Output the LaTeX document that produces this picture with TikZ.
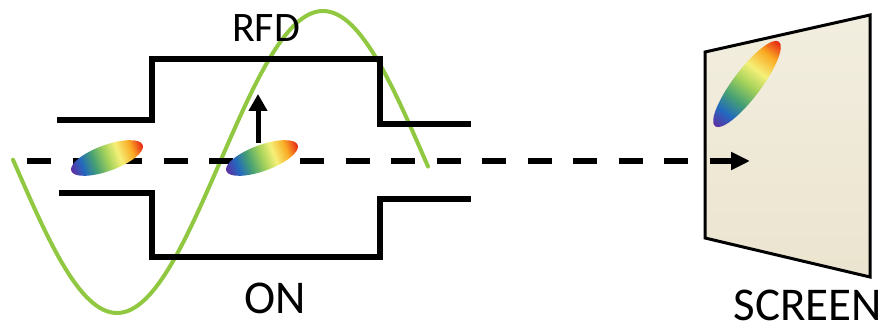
\documentclass[tikz,border=0pt]{standalone}
\usepackage{fontspec}
\setmainfont{Carlito}
\usetikzlibrary{arrows.meta}

\definecolor{bunchviolet}{RGB}{95,45,165}
\definecolor{bunchblue}{RGB}{35,105,190}
\definecolor{bunchteal}{RGB}{70,160,115}
\definecolor{bunchgreen}{RGB}{165,210,90}
\definecolor{bunchyellow}{RGB}{245,240,120}
\definecolor{bunchorange}{RGB}{250,170,35}
\definecolor{bunchred}{RGB}{230,35,20}
\definecolor{rfgreen}{RGB}{145,200,65}
\definecolor{screentop}{RGB}{242,238,223}
\definecolor{screenbottom}{RGB}{235,228,207}

% rainbow colouring of an electron bunch (tail blue, head red)
\pgfdeclarehorizontalshading{bunchrainbow}{100bp}{%
  color(0bp)=(bunchviolet);
  color(25bp)=(bunchviolet);
  color(33bp)=(bunchblue);
  color(41bp)=(bunchteal);
  color(50bp)=(bunchgreen);
  color(58bp)=(bunchyellow);
  color(67bp)=(bunchorange);
  color(75bp)=(bunchred);
  color(100bp)=(bunchred)}

\tikzset{
  wall/.style={line width=5.5pt, line cap=butt, line join=miter},
  rfwave/.style={draw=rfgreen, line width=4pt, line cap=round},
  beam/.style={line width=6pt, dash pattern=on 24pt off 21.5pt,
    -{Triangle[length=19pt, width=17pt]}},
  kick/.style={line width=5pt, -{Triangle[length=17pt, width=18pt]}},
  label/.style={font=\fontsize{42}{42}\selectfont, anchor=base,
    inner sep=0pt, text depth=0pt},
  screenface/.style={draw=black, line width=3pt, line join=miter,
    top color=screentop, bottom color=screenbottom}
}

\begin{document}
\begin{tikzpicture}[x=1pt, y=-1pt]
  \useasboundingbox (0,0) rectangle (893,328);

  % deflecting RF field, one period over 412 units
  \draw[rfwave] plot[domain=13:428, samples=120]
    (\x, {162 + 151*sin((\x-14)*0.87379)});

  % cavity walls
  \draw[wall] (57,120) -- (152,120) -- (152,59) -- (380,59) -- (380,124) -- (471,124);
  \draw[wall] (59,193) -- (152,193) -- (152,257) -- (380,257) -- (380,199) -- (471,199);

  % screen
  \draw[screenface] (705,52) -- (870,15) -- (870,277) -- (705,238) -- cycle;

  % beam axis
  \coordinate (beamstart) at (27,161);
  \coordinate (beamend) at (750,161);
  \draw[beam] (beamstart) -- (beamend);

  % transverse kick
  \coordinate (kickstart) at (258,143);
  \coordinate (kickend) at (258,94);
  \draw[kick] (kickstart) -- (kickend);

  % bunches
  \begin{scope}[transform canvas={shift={(107,158)}, rotate=20}]
    \shade[shading=bunchrainbow] (0,0) ellipse [x radius=38, y radius=13];
  \end{scope}
  \begin{scope}[transform canvas={shift={(262,158)}, rotate=20}]
    \shade[shading=bunchrainbow] (0,0) ellipse [x radius=38, y radius=13];
  \end{scope}
  \begin{scope}[transform canvas={shift={(747,84)}, rotate=53}]
    \shade[shading=bunchrainbow] (0,0) ellipse [x radius=53, y radius=14];
  \end{scope}

  % labels
  \node[label] (rfd) at (266,42) {RFD};
  \node[label, font=\fontsize{47}{47}\selectfont] (on) at (275,313) {ON};
  \node[label, font=\fontsize{47}{47}\selectfont] (screenlabel) at (808,320) {SCREEN};
\end{tikzpicture}
\end{document}
